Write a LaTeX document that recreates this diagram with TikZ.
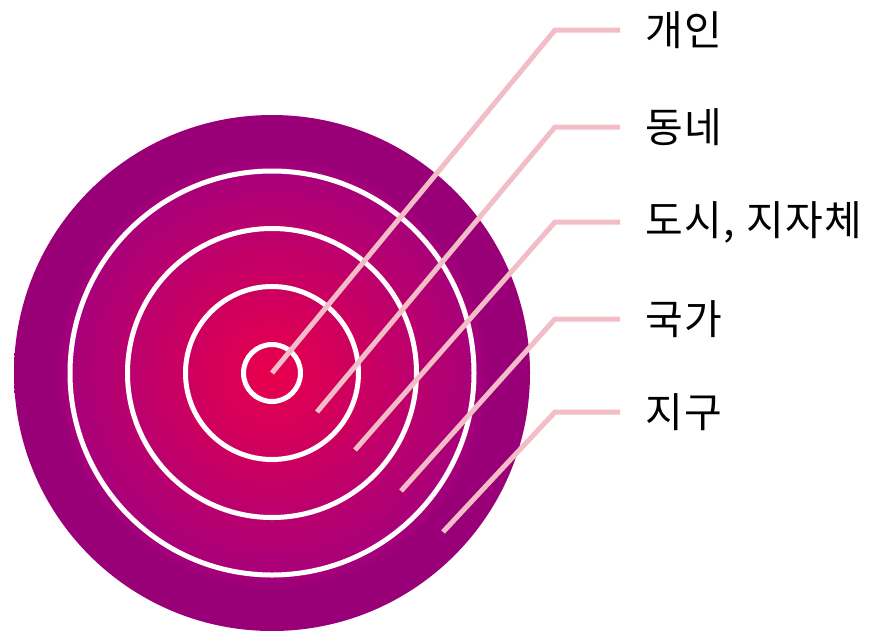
\documentclass[tikz,border=0pt]{standalone}
\usepackage{fontspec}
\newfontfamily\kr{Noto Sans CJK KR}[LetterSpace=4]
\definecolor{cA}{HTML}{E8004C}
\definecolor{cB}{HTML}{A8007A}
\definecolor{cC}{HTML}{990078}
\definecolor{leader}{HTML}{F2BDC6}
\pgfdeclareradialshading{bullseye}{\pgfpoint{0bp}{0bp}}{color(0bp)=(cA); color(19.6bp)=(cB); color(21bp)=(cC); color(25bp)=(cC); color(50bp)=(cC)}
\tikzset{
  ring/.style={draw=white, line width=5pt},
  leadline/.style={draw=leader, line width=5pt},
  lab/.style={anchor=west, inner xsep=25pt, inner ysep=0pt, font=\kr\fontsize{41}{44}\selectfont, text=black}
}
\begin{document}
\begin{tikzpicture}[x=1pt,y=-1pt]
\useasboundingbox (0,0) rectangle (869,630);
\coordinate (c) at (272,373);
\shade[shading=bullseye] (c) circle (258);
\foreach \r in {202,144.5,86.5,28.5} \draw[ring] (c) circle (\r);
% labels
\node[lab] (l1) at (620,30) {개인};
\node[lab] (l2) at (620,127) {동네};
\node[lab] (l3) at (620,222) {도시, 지자체};
\node[lab] (l4) at (620,319) {국가};
\node[lab] (l5) at (620,412) {지구};
% leader start points and elbows
\coordinate (s1) at (272,373);
\coordinate (s2) at (317,412);
\coordinate (s3) at (355,450);
\coordinate (s4) at (401,491);
\coordinate (s5) at (443,532);
\coordinate (e1) at (555,30);
\coordinate (e2) at (555,127);
\coordinate (e3) at (555,222);
\coordinate (e4) at (555,319);
\coordinate (e5) at (555,412);
\foreach \i in {1,...,5} \draw[leadline] (s\i) -- (e\i) -- (l\i.west);
\end{tikzpicture}
\end{document}
